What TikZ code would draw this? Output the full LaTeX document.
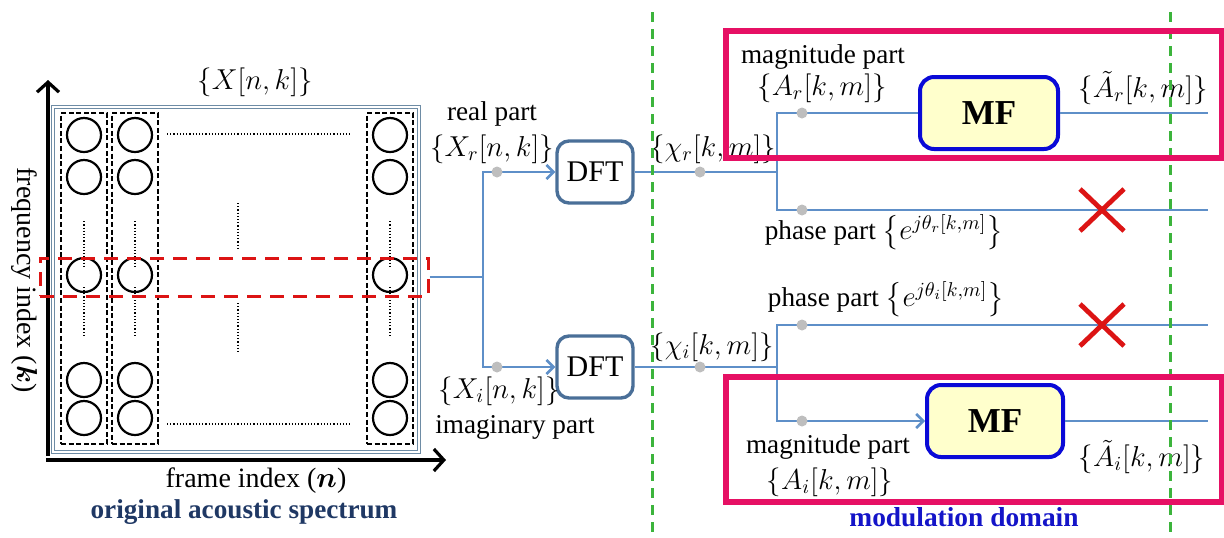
\documentclass[tikz,border=0pt]{standalone}
\usepackage{amsmath}
\usepackage{fontspec}
\setmainfont{Liberation Serif}
\usetikzlibrary{arrows.meta}
\definecolor{connblue}{RGB}{94,143,200}
\definecolor{dftblue}{RGB}{74,111,152}
\definecolor{mfblue}{RGB}{10,10,215}
\definecolor{mfyellow}{RGB}{255,255,204}
\definecolor{pinkbox}{RGB}{230,16,100}
\definecolor{domgreen}{RGB}{60,180,60}
\definecolor{navytext}{RGB}{31,56,100}
\definecolor{modtext}{RGB}{20,20,200}
\definecolor{selred}{RGB}{220,20,20}
\definecolor{dotgray}{RGB}{190,190,190}
\definecolor{framegray}{RGB}{110,140,165}
\begin{document}
\begin{tikzpicture}[x=0.5pt,y=-0.5pt,
  axisline/.style={line width=1.8pt,-{Straight Barb[length=5pt,width=11pt,line width=1.6pt]}},
  conn/.style={line width=1.4pt,draw=connblue},
  connarr/.style={conn,-{Straight Barb[length=3.5pt,width=7pt,line width=1.3pt]}},
  graydot/.style={circle,fill=dotgray,inner sep=0pt,minimum size=5.5pt},
  cell/.style={circle,draw,line width=1.1pt,minimum size=17pt,inner sep=0pt},
  colbox/.style={draw,line width=0.9pt,dash pattern=on 2.5pt off 1.3pt},
  dotline/.style={line width=0.7pt,dash pattern=on 0.6pt off 1pt},
  dftbox/.style={draw=dftblue,line width=1.7pt,rounded corners=6pt,fill=white,minimum width=38pt,minimum height=31pt,inner sep=0pt,font=\fontsize{15}{17}\selectfont},
  mfbox/.style={draw=mfblue,line width=2pt,rounded corners=7pt,fill=mfyellow,minimum height=36pt,inner sep=0pt,font=\fontsize{17.5}{20}\selectfont\bfseries},
  lbl/.style={font=\fontsize{13.6}{15}\selectfont,inner sep=0pt},
  biglbl/.style={font=\fontsize{14}{16}\selectfont,inner sep=0pt},
  rejectx/.style={draw=selred,line width=2.4pt},
  domline/.style={draw=domgreen,line width=1.5pt,dash pattern=on 5pt off 3.5pt},
  modbox/.style={draw=pinkbox,line width=2.6pt},
  selbox/.style={draw=selred,line width=1.5pt,dash pattern=on 7pt off 4.5pt,inner sep=0pt}
]
\useasboundingbox (0,0) rectangle (1224,537);

% ---------- spectrum frame ----------
\node[draw=framegray,double,double distance=0.8pt,line width=0.6pt,inner sep=0pt,minimum width=183pt,minimum height=172.5pt] (frame) at (236,279.5) {};
\foreach \c/\x in {1/84,2/135,3/390}{
  \node[colbox,inner sep=0pt,minimum width=23pt,minimum height=165.5pt] (col\c) at (\x,278.5) {};
  \foreach \r/\y in {1/135,2/177,3/275,4/380,5/418}{
    \node[cell] (c\c\r) at (\x,\y) {};
  }
  \draw[dotline] (c\c2.south) ++(0,26) coordinate (t\c) -- ++(0,47);
  \draw[dotline] (c\c4.north) ++(0,-26) coordinate (b\c) -- ++(0,-49);
}
\coordinate (mtop) at (238,203);
\coordinate (mbot) at (238,303);
\draw[dotline] (mtop) -- ++(0,47);
\draw[dotline] (mbot) -- ++(0,49);
\coordinate (hl1) at (167,134);
\coordinate (hl2) at (167,424);
\draw[dotline] (hl1) -- ++(183,0);
\draw[dotline] (hl2) -- ++(183,0);

% axes
\coordinate (origin) at (48,460);
\coordinate (ytip) at (48,80);
\coordinate (xtip) at (446,460);
\draw[axisline] ([yshift=2pt]origin) -- (ytip);
\draw[axisline] ([xshift=-1pt]origin) -- (xtip);

% selected row
\node[selbox,minimum width=194pt,minimum height=19pt] (sel) at (234,277) {};

% labels left
\node[lbl] (xnk) at (255,82) {$\{X[n,k]\}$};
\node[biglbl,rotate=-90] (freq) at (24,280) {frequency index ($\boldsymbol{k}$)};
\node[biglbl] (frm) at (256,481) {frame index ($\boldsymbol{n}$)};
\node[font=\fontsize{13.6}{15}\selectfont\bfseries,text=navytext,inner sep=0pt] (orig) at (244,512) {original acoustic spectrum};

% ---------- DFT stage ----------
\node[dftbox] (dft1) at (595,172) {DFT};
\node[dftbox] (dft2) at (595,367) {DFT};
\coordinate (split) at (483,277);
\draw[conn] (sel.east) -- (split);
\draw[connarr] (split) |- (dft1.west);
\draw[connarr] (split) |- (dft2.west);
\node[graydot] (d1) at (497,172) {};
\node[graydot] (d2) at (497,367) {};
\node[lbl] (realp) at (492,114) {real part};
\node[lbl] (xr) at (492,149) {$\{X_r[n,k]\}$};
\node[lbl] (xi) at (499,391) {$\{X_i[n,k]\}$};
\node[lbl] (imagp) at (515,427) {imaginary part};

% ---------- modulation domain ----------
\node[mfbox,minimum width=69pt] (mfr) at (989,113) {MF};
\node[mfbox,minimum width=68pt] (mfi) at (995,421) {MF};
\coordinate (jr) at (777,172);
\coordinate (ji) at (777,367);
\coordinate (endar) at (1208,113);
\coordinate (endpr) at (1208,210);
\coordinate (endpi) at (1208,325);
\coordinate (endai) at (1208,421);
\coordinate (pr) at (777,210);
\coordinate (pi) at (777,325);

\draw[conn] (dft1.east) -- (jr);
\draw[conn] (dft2.east) -- (ji);
\draw[conn] (jr) |- (mfr.west);
\draw[conn] (mfr.east) -- (endar);
\draw[conn] (jr) -- (pr) -- (endpr);
\draw[conn] (ji) -- (pi) -- (endpi);
\draw[connarr] (ji) |- (mfi.west);
\draw[conn] (mfi.east) -- (endai);

\node[graydot] (d3) at (700,172) {};
\node[graydot] (d4) at (700,367) {};
\node[graydot] (d5) at (802,113) {};
\node[graydot] (d6) at (802,210) {};
\node[graydot] (d7) at (802,325) {};
\node[graydot] (d8) at (802,421) {};

% red crosses
\coordinate (xr1) at (1102,210);
\coordinate (xr2) at (1102,325);
\foreach \p in {xr1,xr2}{
  \draw[rejectx] ([shift={(-22,-21)}]\p) -- ([shift={(22,21)}]\p);
  \draw[rejectx] ([shift={(-22,21)}]\p) -- ([shift={(22,-21)}]\p);
}

\node[lbl] (chir) at (713,149) {$\{\chi_r[k,m]\}$};
\node[lbl] (chii) at (712,347) {$\{\chi_i[k,m]\}$};
\node[lbl] (magr) at (823,57) {magnitude part};
\node[lbl] (ar) at (822,88) {$\{A_r[k,m]\}$};
\node[lbl] (atr) at (1143,88) {$\{\tilde{A}_r[k,m]\}$};
\node[lbl] (phr) at (884,232) {phase part $\bigl\{e^{j\theta_r[k,m]}\bigr\}$};
\node[lbl] (phi) at (886,299) {phase part $\bigl\{e^{j\theta_i[k,m]}\bigr\}$};
\node[lbl] (magi) at (828,447) {magnitude part};
\node[lbl] (ai) at (830,482) {$\{A_i[k,m]\}$};
\node[lbl] (ati) at (1142,457) {$\{\tilde{A}_i[k,m]\}$};
\node[font=\fontsize{13.7}{15}\selectfont\bfseries,text=modtext,inner sep=0pt] (modd) at (964,517) {modulation domain};

% domain separators
\coordinate (g1a) at (652,12);
\coordinate (g1b) at (652,537);
\coordinate (g2a) at (1170,12);
\coordinate (g2b) at (1170,537);
\draw[domline] (g1a) -- (g1b);
\draw[domline] (g2a) -- (g2b);

% highlight boxes
\coordinate (pa) at (726,31);
\coordinate (pb) at (1222,158);
\coordinate (pc) at (726,377);
\coordinate (pd) at (1222,502);
\draw[modbox] (pa) rectangle (pb);
\draw[modbox] (pc) rectangle (pd);
\end{tikzpicture}
\end{document}
